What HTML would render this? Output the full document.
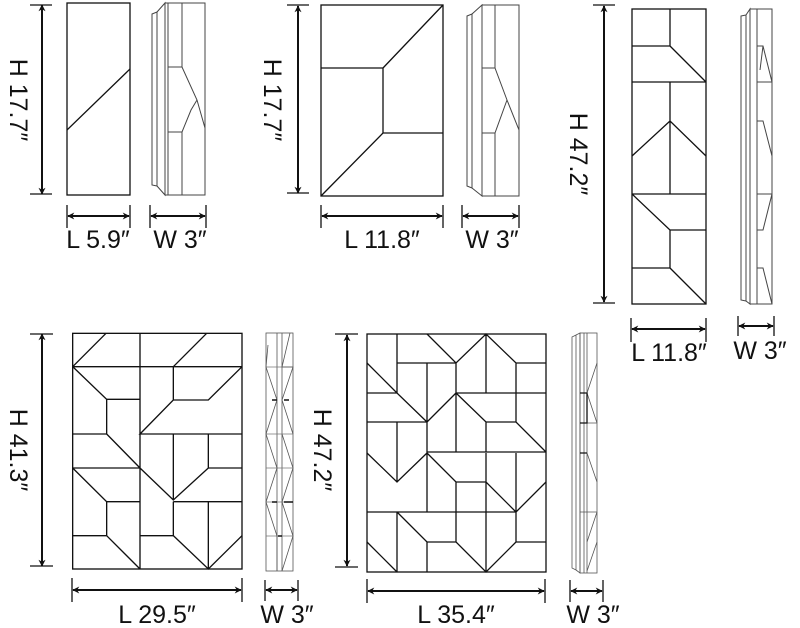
<!DOCTYPE html>
<html><head><meta charset="utf-8"><style>
html,body{margin:0;padding:0;background:#fff;}
svg{display:block;}
text{font-family:"Liberation Sans",sans-serif;font-size:25px;fill:#111;}
</style></head><body>
<svg width="800" height="628" viewBox="0 0 800 628" xmlns="http://www.w3.org/2000/svg">
<defs>
<marker id="a" viewBox="0 0 10 10" refX="9" refY="5" markerWidth="7" markerHeight="7" orient="auto-start-reverse" markerUnits="userSpaceOnUse">
<path d="M0,0 L10,5 L0,10 L3,5 Z" fill="#111"/></marker>
</defs>
<g fill="none" stroke="#111" stroke-width="1.3">
<!-- Panel 1 -->
<rect x="67" y="3" width="63" height="192"/>
<line x1="67" y1="130" x2="130" y2="69"/>
<g stroke="#444" stroke-width="1">
<path d="M152,14 L157,12 L157,186 L152,185 Z"/><path d="M157,12 L165,3 L165,195 L157,186"/>
<rect x="165" y="3" width="40" height="192"/><line x1="168" y1="3" x2="168" y2="195"/>
<line x1="182" y1="3" x2="182" y2="67"/><line x1="182" y1="132" x2="182" y2="195"/>
<path d="M168,67 L182,67 L197,100 L205,128 M182,132 L168,132 M182,132 L191,110 L197,100"/>
</g>
<line x1="42" y1="5" x2="42" y2="194" marker-start="url(#a)" marker-end="url(#a)" stroke-width="2"/>
<line x1="30" y1="5" x2="52" y2="5"/><line x1="30" y1="194" x2="52" y2="194"/>
<line x1="68" y1="216" x2="129" y2="216" marker-start="url(#a)" marker-end="url(#a)" stroke-width="2"/>
<line x1="67" y1="205" x2="67" y2="228"/><line x1="130" y1="205" x2="130" y2="228"/>
<line x1="151" y1="216" x2="205" y2="216" marker-start="url(#a)" marker-end="url(#a)" stroke-width="2"/>
<line x1="150" y1="205" x2="150" y2="228"/><line x1="206" y1="205" x2="206" y2="228"/>

<!-- Panel 2 -->
<rect x="321" y="5" width="122" height="191"/>
<path d="M321,68 L383,68 L383,133 L443,133 M383,68 L443,5 M383,133 L321,196"/>
<g stroke="#444" stroke-width="1">
<path d="M467,16 L472,14 L472,188 L467,186 Z"/><path d="M472,14 L482,5 L482,196 L472,188"/>
<rect x="482" y="5" width="37" height="191"/><line x1="495" y1="5" x2="495" y2="68"/><line x1="495" y1="133" x2="495" y2="196"/>
<path d="M482,68 L495,68 L507,100 L519,130 M495,133 L482,133 M495,133 L507,100"/>
</g>
<line x1="298" y1="6" x2="298" y2="193" marker-start="url(#a)" marker-end="url(#a)" stroke-width="2"/>
<line x1="287" y1="5" x2="309" y2="5"/><line x1="287" y1="193" x2="309" y2="193"/>
<line x1="322" y1="216" x2="442" y2="216" marker-start="url(#a)" marker-end="url(#a)" stroke-width="2"/>
<line x1="321" y1="205" x2="321" y2="228"/><line x1="443" y1="205" x2="443" y2="228"/>
<line x1="463" y1="216" x2="518" y2="216" marker-start="url(#a)" marker-end="url(#a)" stroke-width="2"/>
<line x1="462" y1="205" x2="462" y2="228"/><line x1="519" y1="205" x2="519" y2="228"/>

<!-- Panel 3 -->
<rect x="632" y="9" width="74" height="295"/>
<path d="M632,82 L706,82 M632,194 L706,194 M670,9 L670,46 L632,46 M670,46 L706,82 M670,82 L670,194 M670,121 L632,156 M670,121 L706,156 M632,194 L670,230 L670,268 L632,268 M670,230 L706,230 M670,268 L706,304"/>
<g stroke="#444" stroke-width="1">
<path d="M741,16 L746,15 L746,301 L741,300 Z"/><path d="M746,15 L750,9 L750,304 L746,301"/>
<rect x="750" y="9" width="22" height="295"/><line x1="757" y1="9" x2="757" y2="304"/>
<path d="M757,82 L772,82 M757,194 L772,194 M757,46 L763,46 L772,82 M763,46 L760,70 M757,121 L763,121 L772,156 M757,230 L763,230 L772,194 M757,268 L763,268 L772,304"/>
</g>
<line x1="604" y1="6" x2="604" y2="302" marker-start="url(#a)" marker-end="url(#a)" stroke-width="2"/>
<line x1="593" y1="5" x2="615" y2="5"/><line x1="593" y1="303" x2="615" y2="303"/>
<line x1="632" y1="329" x2="705" y2="329" marker-start="url(#a)" marker-end="url(#a)" stroke-width="2"/>
<line x1="631" y1="318" x2="631" y2="342"/><line x1="706" y1="318" x2="706" y2="342"/>
<line x1="739" y1="326" x2="773" y2="326" marker-start="url(#a)" marker-end="url(#a)" stroke-width="2"/>
<line x1="738" y1="316" x2="738" y2="336"/><line x1="774" y1="316" x2="774" y2="336"/>

<!-- Panel 4 (zoom coords) -->
<g transform="translate(0,320) scale(0.33333)" stroke-width="4">
<rect x="218" y="40" width="508" height="707"/>
<path d="M420,40 L420,747 M218,140 L726,140 M218,140 L318,40 M520,140 L620,40
M218,140 L320,238 L420,238 M320,238 L320,342 L218,342 M320,342 L420,444 L218,444
M218,444 L320,545 L420,545 M320,545 L320,647 L218,647 M320,647 L420,747
M726,140 L625,240 L520,240 M520,140 L520,240 L420,342 L726,342
M520,342 L520,540 M625,342 L625,444 L726,444 M625,444 L520,540 L420,444
M520,545 L726,545 M625,545 L625,747 M520,545 L520,647 L420,647 M520,647 L625,747 L726,647"/>
</g>
<g stroke="#555" stroke-width="0.8">
<rect x="266" y="333" width="27" height="238"/>
<line x1="277" y1="333" x2="277" y2="571"/><line x1="282" y1="333" x2="282" y2="571"/>
<path d="M266,367 L293,367 M266,434 L293,434 M266,468 L293,468 M266,502 L293,502 M266,536 L293,536" stroke="#777"/>
<path d="M268,345 L266,367 L277,400 L266,434 L277,468 L266,502 L277,536 L277,571 M290,333 L282,367 L293,367 L282,400 L293,434 M282,434 L293,468 L282,502 L293,536 L282,571"/>
<path d="M272,400 L277,400 M284,400 L289,400 M272,502 L277,502 M284,502 L293,502 M278,536 L282,536" stroke="#111" stroke-width="1.5"/>
</g>
<line x1="42" y1="334" x2="42" y2="566" marker-start="url(#a)" marker-end="url(#a)" stroke-width="2"/>
<line x1="30" y1="334" x2="53" y2="334"/><line x1="30" y1="566" x2="53" y2="566"/>
<line x1="73" y1="590" x2="241" y2="590" marker-start="url(#a)" marker-end="url(#a)" stroke-width="2"/>
<line x1="72" y1="578" x2="72" y2="602"/><line x1="242" y1="578" x2="242" y2="602"/>
<line x1="266" y1="590" x2="297" y2="590" marker-start="url(#a)" marker-end="url(#a)" stroke-width="2"/>
<line x1="265" y1="580" x2="265" y2="601"/><line x1="298" y1="580" x2="298" y2="601"/>

<!-- Panel 5 -->
<rect x="367" y="334" width="179" height="238"/>
<path d="M397,334 L397,393 M367,363 L397,393 M367,393 L397,393 L427,422 M397,363 L456,363 M427,363 L427,512 M456,363 L456,452
M427,334 L456,363 L486,334 L516,363 L546,363 M486,334 L486,393 M516,363 L516,393 M456,393 L546,393
M456,393 L427,422 M456,393 L486,422 L516,422 L546,452 M486,422 L486,452 M367,422 L427,422 M397,422 L397,482 M516,393 L516,422
M427,452 L546,452 M367,453 L397,482 L427,453 M486,453 L486,512 M427,453 L456,482 L486,482 L516,512 M516,453 L516,542 M516,512 L546,482 M456,482 L456,512
M367,512 L516,512 M516,542 L546,542 M397,512 L397,572 M397,512 L427,542 L456,542 M427,542 L427,572 M456,512 L456,542 L486,572 L516,542 M486,512 L486,572 M367,542 L397,572"/>
<g stroke="#555" stroke-width="0.8">
<path d="M572,337 L576,335 L576,570 L572,568 Z"/><path d="M576,335 L580,333 L580,573 L576,570"/>
<rect x="580" y="333" width="17" height="240"/><line x1="587" y1="333" x2="587" y2="573"/><line x1="584" y1="333" x2="584" y2="573"/>
<path d="M580,393 L587,393 M580,423 L597,423 M580,512 L597,512 M587,393 L597,363 M587,393 L597,423 M587,453 L597,482 M587,542 L597,512 M587,571 L597,542"/>
<path d="M580,393 L587,393 L587,423 L580,423 M580,453 L587,453" stroke="#111" stroke-width="1.3"/>
</g>
<line x1="347" y1="335" x2="347" y2="566" marker-start="url(#a)" marker-end="url(#a)" stroke-width="2"/>
<line x1="335" y1="334" x2="358" y2="334"/><line x1="335" y1="567" x2="358" y2="567"/>
<line x1="368" y1="591" x2="544" y2="591" marker-start="url(#a)" marker-end="url(#a)" stroke-width="2"/>
<line x1="367" y1="579" x2="367" y2="603"/><line x1="545" y1="579" x2="545" y2="603"/>
<line x1="571" y1="591" x2="602" y2="591" marker-start="url(#a)" marker-end="url(#a)" stroke-width="2"/>
<line x1="570" y1="580" x2="570" y2="602"/><line x1="603" y1="580" x2="603" y2="602"/>
</g>

<!-- Labels -->
<text transform="translate(10,100) rotate(90)" text-anchor="middle">H 17.7″</text>
<text transform="translate(264,100) rotate(90)" text-anchor="middle">H 17.7″</text>
<text transform="translate(570,154) rotate(90)" text-anchor="middle">H 47.2″</text>
<text transform="translate(10,450) rotate(90)" text-anchor="middle">H 41.3″</text>
<text transform="translate(314,450) rotate(90)" text-anchor="middle">H 47.2″</text>
<text x="98" y="248" text-anchor="middle">L 5.9″</text>
<text x="180" y="248" text-anchor="middle">W 3″</text>
<text x="382" y="248" text-anchor="middle">L 11.8″</text>
<text x="492" y="248" text-anchor="middle">W 3″</text>
<text x="669" y="361" text-anchor="middle">L 11.8″</text>
<text x="760" y="359" text-anchor="middle">W 3″</text>
<text x="157" y="623" text-anchor="middle">L 29.5″</text>
<text x="287" y="623" text-anchor="middle">W 3″</text>
<text x="456" y="623" text-anchor="middle">L 35.4″</text>
<text x="593" y="623" text-anchor="middle">W 3″</text>
</svg>
</body></html>
